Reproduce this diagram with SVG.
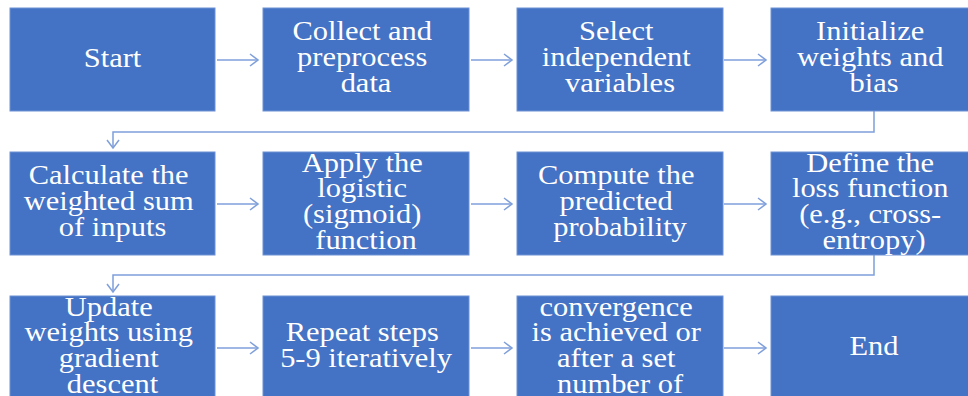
<svg xmlns="http://www.w3.org/2000/svg" width="968" height="396" viewBox="0 0 968 396">
  <style>
    .box { fill: #4472C4; stroke: #6f92d4; stroke-width: 1; }
    .lbl { fill: #ffffff; font-family: "Liberation Serif", "Times New Roman", serif; font-size: 26.5px; text-anchor: middle; }
    .conn { fill: none; stroke: #7f9fdb; stroke-width: 1.5; }
  </style>
  <defs>
    <marker id="arrow" markerUnits="userSpaceOnUse" markerWidth="12" markerHeight="14" refX="9" refY="7" orient="auto">
      <path d="M1,1 L9,7 L1,13" fill="none" stroke="#7f9fdb" stroke-width="1.5"/>
    </marker>
  </defs>

  <!-- white page -->
  <rect x="0" y="0" width="968" height="396" fill="#ffffff"/>

  <!-- connectors -->
  <g id="connectors">
    <line class="conn" x1="217" y1="60" x2="258" y2="60" marker-end="url(#arrow)"/>
    <line class="conn" x1="471" y1="60" x2="512" y2="60" marker-end="url(#arrow)"/>
    <line class="conn" x1="724" y1="60" x2="766" y2="60" marker-end="url(#arrow)"/>
    <polyline class="conn" points="874,111 874,132 113,132 113,148" marker-end="url(#arrow)"/>

    <line class="conn" x1="217" y1="204" x2="258" y2="204" marker-end="url(#arrow)"/>
    <line class="conn" x1="471" y1="204" x2="512" y2="204" marker-end="url(#arrow)"/>
    <line class="conn" x1="724" y1="204" x2="766" y2="204" marker-end="url(#arrow)"/>
    <polyline class="conn" points="874,255 874,275 113,275 113,292" marker-end="url(#arrow)"/>

    <line class="conn" x1="217" y1="348" x2="258" y2="348" marker-end="url(#arrow)"/>
    <line class="conn" x1="471" y1="348" x2="512" y2="348" marker-end="url(#arrow)"/>
    <line class="conn" x1="724" y1="348" x2="766" y2="348" marker-end="url(#arrow)"/>
  </g>

  <!-- row 1 -->
  <g id="start">
    <rect class="box" x="10" y="8" width="205" height="103"/>
    <text class="lbl" transform="translate(112.5 0) scale(1.15 1)"><tspan x="0" y="67">Start</tspan></text>
  </g>
  <g id="collect">
    <rect class="box" x="263" y="8" width="206" height="103"/>
    <text class="lbl" transform="translate(366 0) scale(1.15 1)">
      <tspan x="0" y="40.5">Collect and</tspan>
      <tspan x="0" y="66.2">preprocess</tspan>
      <tspan x="0" y="91.9">data</tspan>
    </text>
  </g>
  <g id="select">
    <rect class="box" x="517" y="8" width="206" height="103"/>
    <text class="lbl" transform="translate(620 0) scale(1.15 1)">
      <tspan x="0" y="40.5">Select</tspan>
      <tspan x="0" y="66.2">independent</tspan>
      <tspan x="0" y="91.9">variables</tspan>
    </text>
  </g>
  <g id="init">
    <rect class="box" x="771" y="8" width="206" height="103"/>
    <text class="lbl" transform="translate(874 0) scale(1.15 1)">
      <tspan x="0" y="40.5">Initialize</tspan>
      <tspan x="0" y="66.2">weights and</tspan>
      <tspan x="0" y="91.9">bias</tspan>
    </text>
  </g>

  <!-- row 2 -->
  <g id="weighted-sum">
    <rect class="box" x="10" y="152" width="205" height="103"/>
    <text class="lbl" transform="translate(112.5 0) scale(1.15 1)">
      <tspan x="0" y="184.5">Calculate the</tspan>
      <tspan x="0" y="210.2">weighted sum</tspan>
      <tspan x="0" y="235.9">of inputs</tspan>
    </text>
  </g>
  <g id="sigmoid">
    <rect class="box" x="263" y="152" width="206" height="103"/>
    <text class="lbl" transform="translate(366 0) scale(1.15 1)">
      <tspan x="0" y="171.6">Apply the</tspan>
      <tspan x="0" y="197.3">logistic</tspan>
      <tspan x="0" y="223">(sigmoid)</tspan>
      <tspan x="0" y="248.7">function</tspan>
    </text>
  </g>
  <g id="probability">
    <rect class="box" x="517" y="152" width="206" height="103"/>
    <text class="lbl" transform="translate(620 0) scale(1.15 1)">
      <tspan x="0" y="184.5">Compute the</tspan>
      <tspan x="0" y="210.2">predicted</tspan>
      <tspan x="0" y="235.9">probability</tspan>
    </text>
  </g>
  <g id="loss">
    <rect class="box" x="771" y="152" width="206" height="103"/>
    <text class="lbl" transform="translate(874 0) scale(1.15 1)">
      <tspan x="0" y="171.6">Define the</tspan>
      <tspan x="0" y="197.3">loss function</tspan>
      <tspan x="0" y="223">(e.g., cross-</tspan>
      <tspan x="0" y="248.7">entropy)</tspan>
    </text>
  </g>

  <!-- row 3 -->
  <g id="update">
    <rect class="box" x="10" y="296" width="205" height="110"/>
    <text class="lbl" transform="translate(112.5 0) scale(1.15 1)">
      <tspan x="0" y="315.6">Update</tspan>
      <tspan x="0" y="341.3">weights using</tspan>
      <tspan x="0" y="367">gradient</tspan>
      <tspan x="0" y="392.7">descent</tspan>
    </text>
  </g>
  <g id="repeat">
    <rect class="box" x="263" y="296" width="206" height="110"/>
    <text class="lbl" transform="translate(366 0) scale(1.15 1)">
      <tspan x="0" y="341.3">Repeat steps</tspan>
      <tspan x="0" y="367">5-9 iteratively</tspan>
    </text>
  </g>
  <g id="stop">
    <rect class="box" x="517" y="296" width="206" height="110"/>
    <text class="lbl" transform="translate(620 0) scale(1.15 1)">
      <tspan x="0" y="315.6">convergence</tspan>
      <tspan x="0" y="341.3">is achieved or</tspan>
      <tspan x="0" y="367">after a set</tspan>
      <tspan x="0" y="392.7">number of</tspan>
    </text>
  </g>
  <g id="end">
    <rect class="box" x="771" y="296" width="206" height="110"/>
    <text class="lbl" transform="translate(874 0) scale(1.15 1)"><tspan x="0" y="355">End</tspan></text>
  </g>
</svg>
